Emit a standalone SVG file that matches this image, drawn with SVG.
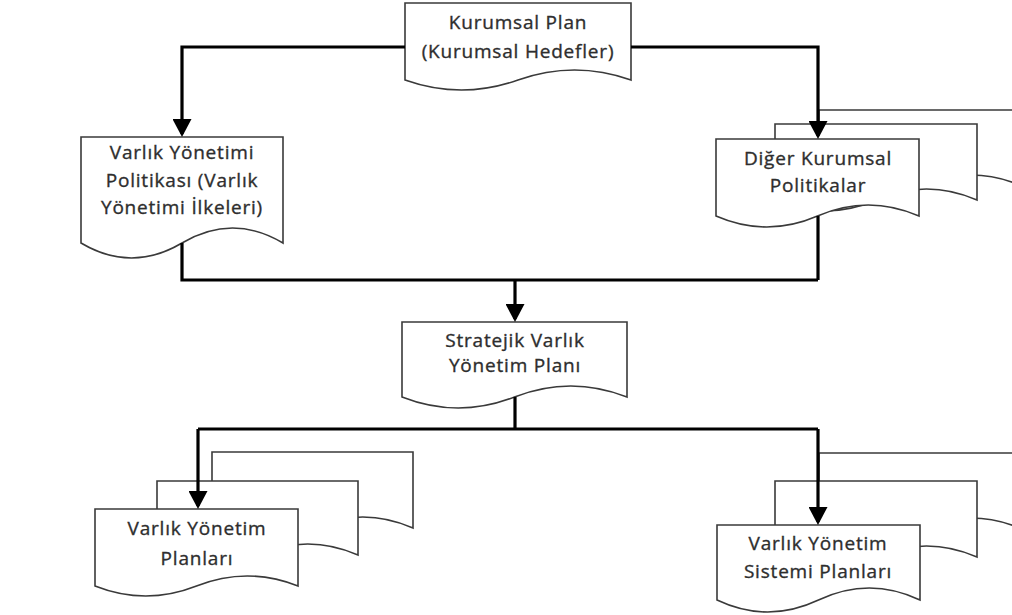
<svg xmlns="http://www.w3.org/2000/svg" width="1012" height="615" viewBox="0 0 1012 615">
  <defs>
    <style>
      .doc { fill: #ffffff; stroke: #3a3a3a; stroke-width: 1.6; stroke-linejoin: miter; }
      .lbl { font-family: "Open Sans", "Liberation Sans", sans-serif; font-size: 19px; fill: #2e2e2e; stroke: #2e2e2e; stroke-width: 0.35; text-anchor: middle; letter-spacing: 0.8px; }
      .wire { fill: none; stroke: #000000; stroke-width: 3.2; }
      .arrow { marker-end: url(#head); }
    </style>
    <marker id="head" markerUnits="userSpaceOnUse" viewBox="0 0 18 19" refX="15" refY="9.5" markerWidth="18" markerHeight="19" orient="auto">
      <path d="M0,0 L18,9.5 L0,19 Z" fill="#000000"/>
    </marker>
  </defs>

  <rect width="1012" height="615" fill="#ffffff"/>

  <!-- Kurumsal Plan -->
  <g id="kurumsal-plan">
    <path class="doc" d="M405,3 H631 V80 Q574.5,60 518,80 Q461.5,100 405,80 Z"/>
    <text class="lbl" x="518" y="29">Kurumsal Plan</text>
    <text class="lbl" x="518" y="58">(Kurumsal Hedefler)</text>
  </g>

  <!-- Varlık Yönetimi Politikası -->
  <g id="varlik-politikasi">
    <path class="doc" d="M81,137 H283 V243 Q232.5,213 182,243 Q131.5,273 81,243 Z"/>
    <text class="lbl" x="182" y="159">Varlık Yönetimi</text>
    <text class="lbl" x="182" y="187">Politikası (Varlık</text>
    <text class="lbl" x="182" y="214">Yönetimi İlkeleri)</text>
  </g>

  <!-- Diğer Kurumsal Politikalar (stack of documents) -->
  <g id="diger-politikalar">
    <path class="doc" d="M819,110 H1022 V186 Q971.25,164 920.5,186 Q869.75,208 819,186 Z"/>
    <path class="doc" d="M775,124 H977 V200 Q926.5,178 876,200 Q825.5,222 775,200 Z"/>
    <path class="doc" d="M716,139 H919 V216 Q868.25,194 817.5,216 Q766.75,238 716,216 Z"/>
    <text class="lbl" x="818" y="165">Diğer Kurumsal</text>
    <text class="lbl" x="818" y="192">Politikalar</text>
  </g>

  <!-- Stratejik Varlık Yönetim Planı -->
  <g id="stratejik-plan">
    <path class="doc" d="M402,322 H627 V397 Q570.75,375 514.5,397 Q458.25,419 402,397 Z"/>
    <text class="lbl" x="515" y="347">Stratejik Varlık</text>
    <text class="lbl" x="515" y="372">Yönetim Planı</text>
  </g>

  <!-- Varlık Yönetim Planları (stack of documents) -->
  <g id="yonetim-planlari">
    <path class="doc" d="M212,452 H413 V528 Q362.75,506 312.5,528 Q262.25,550 212,528 Z"/>
    <path class="doc" d="M157,481 H358 V555 Q307.75,533 257.5,555 Q207.25,577 157,555 Z"/>
    <path class="doc" d="M95,509 H298 V586 Q247.25,566 196.5,586 Q145.75,606 95,586 Z"/>
    <text class="lbl" x="197" y="535">Varlık Yönetim</text>
    <text class="lbl" x="197" y="565">Planları</text>
  </g>

  <!-- Varlık Yönetim Sistemi Planları (stack of documents) -->
  <g id="sistemi-planlari">
    <path class="doc" d="M819,453 H1022 V529 Q971.25,507 920.5,529 Q869.75,551 819,529 Z"/>
    <path class="doc" d="M775,481 H977 V557 Q926.5,535 876,557 Q825.5,579 775,557 Z"/>
    <path class="doc" d="M717,525 H920 V600 Q869.25,576 818.5,600 Q767.75,624 717,600 Z"/>
    <text class="lbl" x="818" y="550">Varlık Yönetim</text>
    <text class="lbl" x="818" y="578">Sistemi Planları</text>
  </g>

  <!-- Connectors -->
  <g id="connectors">
    <path class="wire arrow" d="M405,47 H182 V134"/>
    <path class="wire arrow" d="M631,47 H818 V136"/>
    <path class="wire" d="M182,243 V280 H818"/>
    <path class="wire" d="M818,216 V280"/>
    <path class="wire arrow" d="M515,280 V319"/>
    <path class="wire" d="M515,397 V429"/>
    <path class="wire" d="M198,429 H818"/>
    <path class="wire arrow" d="M198,429 V506"/>
    <path class="wire arrow" d="M818,429 V522"/>
  </g>
</svg>
